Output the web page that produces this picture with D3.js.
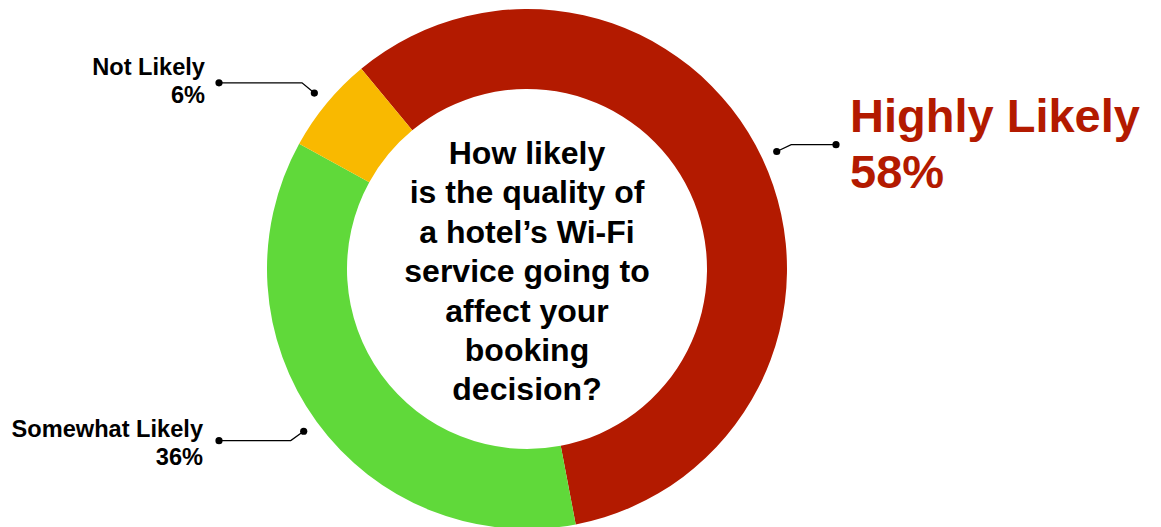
<!DOCTYPE html>
<html>
<head>
<meta charset="utf-8">
<script src="https://cdn.jsdelivr.net/npm/d3@7"></script>
<style>
  html, body { margin: 0; padding: 0; background: #fff; }
  svg { display: block; font-family: "Liberation Sans", Arial, Helvetica, sans-serif; font-weight: bold; }
</style>
</head>
<body>
<svg id="chart" width="1161" height="527"></svg>
<script>
// Survey answers, in drawing order (clockwise)
const categories = ["Highly Likely", "Somewhat Likely", "Not Likely"];
const shares = [58, 36, 6];
const colors = ["#b31a00", "#60d93a", "#f9b900"];
const questionLines = [
  "How likely",
  "is the quality of",
  "a hotel\u2019s Wi-Fi",
  "service going to",
  "affect your",
  "booking",
  "decision?"
];

const svg = d3.select("#chart");
const cx = 527, cy = 269;
const outerR = 260, innerR = 180;
const startDeg = -39.6;

const g = svg.append("g").attr("transform", `translate(${cx},${cy})`);

const pie = d3.pie()
  .sort(null)
  .value(d => d.value)
  .startAngle(startDeg * Math.PI / 180)
  .endAngle(startDeg * Math.PI / 180 + 2 * Math.PI);

const data = categories.map((c, i) => ({ name: c, value: shares[i], color: colors[i] }));
const arcs = pie(data);

const arc = d3.arc().innerRadius(innerR).outerRadius(outerR);

g.selectAll("path.slice")
  .data(arcs)
  .join("path")
  .attr("class", "slice")
  .attr("d", arc)
  .attr("fill", d => d.data.color);

// Leader lines: dot just outside the ring, short diagonal, then horizontal run
const dotArc = d3.arc().innerRadius(276).outerRadius(276);
const elbowArc = d3.arc().innerRadius(292).outerRadius(292);

const labelSpec = {
  "Highly Likely": { endX: 836, textX: 850, y1: 132, y2: 188, size: 47, color: "#b31a00", anchor: "start" },
  "Somewhat Likely": { endX: 219, textX: 203, y1: 437, y2: 465, size: 23.6, color: "#000", anchor: "end" },
  "Not Likely": { endX: 219, textX: 205, y1: 75, y2: 103, size: 23.6, color: "#000", anchor: "end" }
};

arcs.forEach(a => {
  const spec = labelSpec[a.data.name];
  const [dx, dy] = dotArc.centroid(a);
  const [ex, ey] = elbowArc.centroid(a);
  const p0 = [cx + dx, cy + dy];
  const p1 = [cx + ex, cy + ey];
  const p2 = [spec.endX, p1[1]];

  svg.append("polyline")
    .attr("points", [p0, p1, p2].map(p => p.join(",")).join(" "))
    .attr("fill", "none")
    .attr("stroke", "#000")
    .attr("stroke-width", 1.3);
  svg.append("circle").attr("cx", p0[0]).attr("cy", p0[1]).attr("r", 3.6).attr("fill", "#000");
  svg.append("circle").attr("cx", p2[0]).attr("cy", p2[1]).attr("r", 3.6).attr("fill", "#000");

  const t = svg.append("text")
    .attr("text-anchor", spec.anchor)
    .attr("fill", spec.color)
    .attr("font-size", spec.size);
  t.append("tspan").attr("x", spec.textX).attr("y", spec.y1).text(a.data.name);
  t.append("tspan").attr("x", spec.textX).attr("y", spec.y2).text(a.data.value + "%");
});

// Question in the centre of the ring
const q = svg.append("text")
  .attr("text-anchor", "middle")
  .attr("fill", "#000")
  .attr("font-size", 32);
questionLines.forEach((line, i) => {
  q.append("tspan").attr("x", cx).attr("y", 164 + i * 39.4).text(line);
});
</script>
</body>
</html>
